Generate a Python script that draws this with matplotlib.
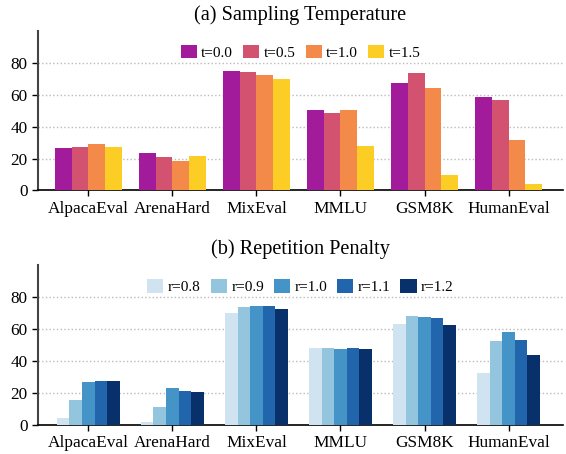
import numpy as np
import matplotlib
matplotlib.use("Agg")
import matplotlib.pyplot as plt

plt.rcParams['font.family'] = ['Liberation Serif', 'DejaVu Serif']

benchmarks = ["AlpacaEval", "ArenaHard", "MixEval", "MMLU", "GSM8K", "HumanEval"]

temp_labels = ["t=0.0", "t=0.5", "t=1.0", "t=1.5"]
temp_scores = [
    [26.7, 23.5, 74.8, 50.4, 67.3, 58.5],   # t=0.0
    [27.3, 21.0, 74.2, 48.6, 73.6, 56.6],   # t=0.5
    [29.2, 18.5, 72.3, 50.4, 64.2, 31.7],   # t=1.0
    [27.3, 21.7, 69.8, 27.9, 9.8, 4.2],     # t=1.5
]
temp_colors = ["#A21B9B", "#D3526F", "#F48A4A", "#FCCD25"]

rep_labels = ["r=0.8", "r=0.9", "r=1.0", "r=1.1", "r=1.2"]
rep_scores = [
    [4.2, 1.7, 70.2, 48.2, 63.2, 32.5],     # r=0.8
    [15.5, 11.1, 74.0, 48.2, 68.2, 52.6],   # r=0.9
    [26.8, 23.0, 74.6, 47.6, 67.6, 58.3],   # r=1.0
    [27.4, 21.2, 74.6, 48.2, 67.0, 53.2],   # r=1.1
    [27.4, 20.6, 72.7, 47.6, 62.6, 43.8],   # r=1.2
]
rep_colors = ["#D0E3F0", "#94C5DF", "#4494C7", "#2166AC", "#08306B"]


def draw_panel(ax, scores, labels, colors, width, title):
    x = np.arange(len(benchmarks))
    n = len(scores)
    for i, (vals, lab, col) in enumerate(zip(scores, labels, colors)):
        offset = (i - (n - 1) / 2) * width
        ax.bar(x + offset, vals, width, color=col, label=lab, zorder=3)
    ax.set_xticks(x)
    ax.set_xticklabels(benchmarks, fontsize=12.4)
    ax.set_xlim(-0.6, 5.65)
    ax.set_ylim(0, 100)
    ax.set_yticks([0, 20, 40, 60, 80])
    ax.tick_params(axis='y', labelsize=12.4, length=4, width=1)
    ax.tick_params(axis='x', length=4, width=1)
    ax.yaxis.grid(True, linestyle=':', color='#bbbbbb', linewidth=1, zorder=0)
    ax.spines['top'].set_visible(False)
    ax.spines['right'].set_visible(False)
    ax.spines['left'].set_color('#444444')
    ax.spines['left'].set_linewidth(1.5)
    ax.spines['bottom'].set_linewidth(1.2)
    ax.set_title(title, fontsize=14.6, pad=8)
    ax.legend(loc='upper center', ncol=n, frameon=False, fontsize=11,
              handlelength=1.05, handleheight=1.0, columnspacing=0.65,
              handletextpad=0.3, bbox_to_anchor=(0.5, 1.0))


fig, (ax1, ax2) = plt.subplots(2, 1, figsize=(5.66, 4.54), dpi=100)
fig.subplots_adjust(left=0.067, right=0.995, top=0.932, bottom=0.064, hspace=0.47)

draw_panel(ax1, temp_scores, temp_labels, temp_colors, 0.2, "(a) Sampling Temperature")
draw_panel(ax2, rep_scores, rep_labels, rep_colors, 0.15, "(b) Repetition Penalty")

fig.savefig("out.png", dpi=100)
